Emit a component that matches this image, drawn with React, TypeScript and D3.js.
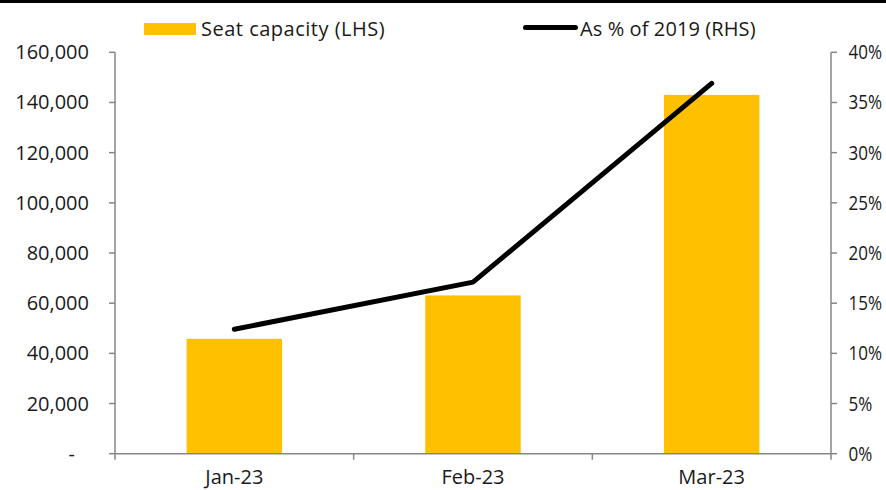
import React from "react";
import * as d3 from "d3";

// Monthly seat capacity (left axis) and capacity as a share of 2019 (right axis)
const months = ["Jan-23", "Feb-23", "Mar-23"];
const seatCapacity = [45800, 63100, 143000];
const pctOf2019 = [0.124, 0.171, 0.369];
const leftTicks = [0, 20000, 40000, 60000, 80000, 100000, 120000, 140000, 160000];
const rightTicks = [0, 0.05, 0.1, 0.15, 0.2, 0.25, 0.3, 0.35, 0.4];
const legendLabels = ["Seat capacity (LHS)", "As % of 2019 (RHS)"];

const W = 886;
const H = 490;
const FONT = "'Open Sans', 'DejaVu Sans', sans-serif";
const AXIS = "#868686";
const GOLD = "#FFC000";
const INK = "#1a1a1a";

export default function App() {
  const x = d3
    .scaleBand<string>()
    .domain(months)
    .range([115, 831])
    .paddingInner(0.6)
    .paddingOuter(0.3);
  const yL = d3.scaleLinear().domain([0, 160000]).range([453.7, 52.3]);
  const yR = d3.scaleLinear().domain([0, 0.4]).range([453.7, 52.3]);

  const fmtL = (v: number) => (v === 0 ? "-" : d3.format(",")(v));
  const fmtR = d3.format(".0%");

  const line = d3
    .line<number>()
    .x((_, i) => (x(months[i]) as number) + x.bandwidth() / 2)
    .y((d) => yR(d));

  const [x0, x1] = x.range();
  const step = x.step();
  const boundaries = d3.range(months.length + 1).map((i) => x0 + i * step);

  return (
    <div style={{ position: "fixed", left: 0, top: 0 }}>
      <svg width={W} height={H} style={{ display: "block", background: "#fff" }} fontFamily={FONT}>
        <rect x={0} y={0} width={W} height={3} fill="#000" />

        {/* legend */}
        <rect x={144} y={23} width={52} height={12} fill={GOLD} />
        <text x={201} y={36} fontSize={20} fill={INK} letterSpacing={0.5}>
          {legendLabels[0]}
        </text>
        <line x1={525.5} x2={575.5} y1={27.5} y2={27.5} stroke="#000" strokeWidth={5} strokeLinecap="round" />
        <text x={580} y={36} fontSize={20} fill={INK} letterSpacing={0.1}>
          {legendLabels[1]}
        </text>

        {/* bars */}
        {seatCapacity.map((v, i) => (
          <rect
            key={months[i]}
            x={x(months[i])}
            y={yL(v)}
            width={x.bandwidth()}
            height={yL(0) - yL(v)}
            fill={GOLD}
          />
        ))}

        {/* left axis */}
        <line x1={x0} x2={x0} y1={yL(160000)} y2={yL(0)} stroke={AXIS} strokeWidth={1.5} />
        {leftTicks.map((t) => (
          <g key={t}>
            <line x1={x0 - 6} x2={x0} y1={yL(t)} y2={yL(t)} stroke={AXIS} strokeWidth={1.5} />
            <text
              x={t === 0 ? 75 : 89}
              y={yL(t)}
              dy="0.35em"
              textAnchor="end"
              fontSize={20}
              fill={INK}
            >
              {fmtL(t)}
            </text>
          </g>
        ))}

        {/* right axis: percent labels horizontally condensed to fit the margin */}
        <line x1={x1} x2={x1} y1={yR(0.4)} y2={yR(0)} stroke={AXIS} strokeWidth={1.5} />
        {rightTicks.map((t) => (
          <g key={t}>
            <line x1={x1} x2={x1 + 6} y1={yR(t)} y2={yR(t)} stroke={AXIS} strokeWidth={1.5} />
            <g transform={`translate(848.5,${yR(t)}) scale(0.85,1)`}>
              <text x={0} y={0} dy="0.35em" textAnchor="start" fontSize={20} fill={INK}>
                {fmtR(t)}
              </text>
            </g>
          </g>
        ))}

        {/* category axis */}
        <line x1={x0} x2={x1} y1={yL(0)} y2={yL(0)} stroke={AXIS} strokeWidth={1.5} />
        {boundaries.map((b, i) => (
          <line key={i} x1={b} x2={b} y1={yL(0)} y2={yL(0) + 6} stroke={AXIS} strokeWidth={1.5} />
        ))}
        {months.map((m) => (
          <text
            key={m}
            x={(x(m) as number) + x.bandwidth() / 2}
            y={484}
            textAnchor="middle"
            fontSize={20}
            fill={INK}
          >
            {m}
          </text>
        ))}

        {/* share of 2019 line */}
        <path
          d={line(pctOf2019) || ""}
          fill="none"
          stroke="#000"
          strokeWidth={5}
          strokeLinecap="round"
          strokeLinejoin="round"
        />
      </svg>
    </div>
  );
}
